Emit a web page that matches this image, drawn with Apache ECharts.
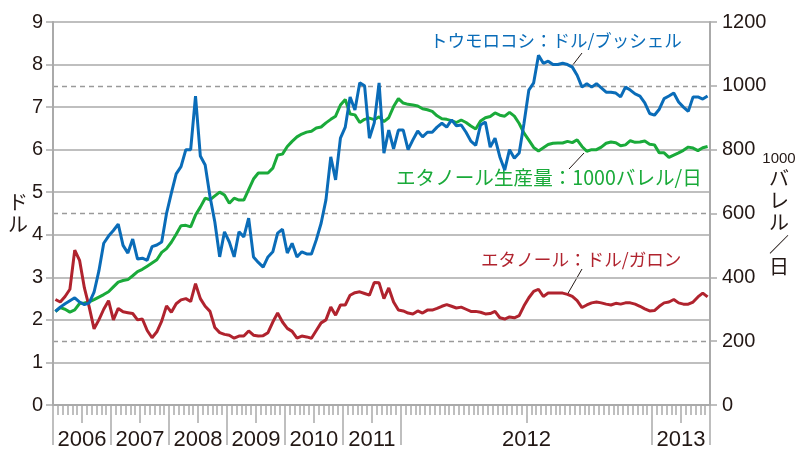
<!DOCTYPE html>
<html>
<head>
<meta charset="utf-8">
<script src="https://cdn.jsdelivr.net/npm/echarts@6.0.0/dist/echarts.min.js"></script>
<style>
html, body { margin: 0; padding: 0; background: #fff; }
#chart { width: 800px; height: 460px; }
</style>
</head>
<body>
<div id="chart"></div>
<script>
// 時間軸: 2011年までは月次, 2012年は週次
const yearBlocks = [
  ['2006', 12], ['2007', 12], ['2008', 12], ['2009', 12], ['2010', 12],
  ['2011', 12], ['2012', 52], ['2013', 12]
]

// トウモロコシ: ドル/ブッシェル
const cornPrice = [
  2.2, 2.3, 2.38, 2.45, 2.52, 2.42, 2.36, 2.4, 2.65, 3.15, 3.8, 3.97,
  4.1, 4.25, 3.75, 3.57, 3.9, 3.43, 3.45, 3.4, 3.72, 3.76, 3.83, 4.5,
  4.98, 5.43, 5.6, 6.0, 6.0, 7.26, 5.85, 5.64, 4.9, 4.3, 3.48, 4.07,
  3.83, 3.48, 4.07, 3.95, 4.39, 3.48, 3.35, 3.24, 3.48, 3.6, 4.04, 4.13,
  3.57, 3.8, 3.48, 3.6, 3.55, 3.55, 3.88, 4.27, 4.82, 5.83, 5.29, 6.27,
  6.53, 7.24, 6.93, 7.57, 7.5, 6.27, 6.63, 7.57, 5.92, 6.46, 6.02, 6.46,
  6.46, 6.0, 6.23, 6.44, 6.3, 6.41, 6.41, 6.53, 6.62, 6.53, 6.7, 6.56,
  6.58, 6.41, 6.2, 6.1, 6.58, 6.65, 6.06, 6.27, 5.83, 5.52, 6.0, 5.8,
  5.92, 6.62, 7.4, 7.57, 8.22, 8.03, 8.08, 8.0, 8.0, 8.03, 8.0, 7.94,
  7.75, 7.47, 7.55, 7.47, 7.55, 7.45, 7.35, 7.35, 7.33, 7.24, 7.47, 7.4,
  7.31, 7.26, 7.1, 6.85, 6.81, 6.95, 7.2, 7.26, 7.33, 7.12, 7.0, 6.9,
  7.24, 7.24, 7.19, 7.26
]

// エタノール生産量: 1000バレル/日
const ethanolOutput = [
  293, 305, 300, 291, 298, 318, 320, 323, 330, 338, 346, 355,
  370, 385, 390, 393, 405, 418, 425, 435, 445, 455, 478, 490,
  510, 535, 562, 563, 558, 595, 620, 648, 643, 655, 667, 658,
  632, 648, 642, 642, 675, 708, 727, 727, 727, 742, 783, 786,
  810, 826, 840, 849, 855, 858, 868, 871, 884, 895, 905, 940,
  957, 912, 909, 885, 895, 899, 894, 903, 888, 900, 935, 960,
  946, 942, 940, 937, 928, 925, 920, 906, 897, 895, 891, 885,
  893, 885, 874, 865, 890, 900, 904, 915, 908, 905, 917, 905,
  882, 852, 830, 807, 796, 806, 816, 820, 821, 821, 826, 822,
  831, 810, 795, 800, 800, 808, 820, 824, 822, 812, 815, 828,
  823, 824, 827, 817, 815, 790, 790, 776, 783, 790, 798, 808,
  805, 797, 806, 810
]

// エタノール: ドル/ガロン
const ethanolPrice = [
  2.48, 2.42, 2.55, 2.72, 3.64, 3.4, 2.75, 2.3, 1.79, 2.0, 2.25, 2.45,
  2.0, 2.27, 2.19, 2.17, 2.15, 2.0, 2.02, 1.75, 1.58, 1.72, 1.97, 2.33,
  2.18, 2.38, 2.47, 2.5, 2.43, 2.85, 2.5, 2.32, 2.2, 1.82, 1.7, 1.66,
  1.64, 1.57, 1.62, 1.62, 1.74, 1.64, 1.62, 1.63, 1.7, 1.95, 2.16, 1.95,
  1.8, 1.73, 1.57, 1.62, 1.6, 1.57, 1.75, 1.93, 2.0, 2.3, 2.11, 2.35,
  2.35, 2.58, 2.64, 2.66, 2.62, 2.58, 2.88, 2.87, 2.5, 2.75, 2.42, 2.23,
  2.21, 2.16, 2.14, 2.21, 2.16, 2.23, 2.23, 2.27, 2.32, 2.36, 2.32, 2.28,
  2.3, 2.25, 2.2, 2.2, 2.18, 2.14, 2.15, 2.2, 2.05, 2.02, 2.07, 2.05,
  2.1, 2.33, 2.52, 2.67, 2.72, 2.55, 2.63, 2.63, 2.63, 2.63, 2.6, 2.55,
  2.45, 2.29, 2.35, 2.4, 2.42, 2.4, 2.37, 2.35, 2.39, 2.37, 2.4, 2.4,
  2.37, 2.32, 2.26, 2.21, 2.22, 2.32, 2.4, 2.42, 2.48, 2.4, 2.37, 2.37,
  2.42, 2.54, 2.63, 2.54
]

const BLUE = '#0a6cb8'
const GREEN = '#1aaa3a'
const RED = '#b0232e'
const INK = '#231815'
const GRAY = '#aaaaaa'
const JP = '"Noto Sans CJK JP", sans-serif'
const NUM = '"Liberation Sans", Arial, sans-serif'

// カテゴリと目盛り位置
const categories = []
const yearStart = {}
const halfMark = {}
const yearLabel = {}
yearBlocks.forEach(([year, n]) => {
  const start = categories.length
  yearStart[start] = true
  halfMark[start + n / 2] = true
  yearLabel[start + n / 2 - 1] = year
  for (let k = 1; k <= n; k++) categories.push(year + '-' + k)
})

const gridLeft = 53
const gridRight = 90
const band = (800 - gridLeft - gridRight) / categories.length

const baseX = {
  type: 'category',
  data: categories,
  position: 'bottom',
  boundaryGap: true,
  axisLine: { show: false },
  axisLabel: { show: false },
  splitLine: { show: false }
}

// 縦書きの軸名
const vert = (s) => s.split('').map((c) => '{t|' + c + '}').join('\n')
const nameRich = {
  t: { fontSize: 20, fontFamily: JP, lineHeight: 22, align: 'center', color: INK, width: 24 },
  n: { fontSize: 15, fontFamily: '"Liberation Sans Narrow", sans-serif', lineHeight: 18, align: 'center', color: INK, width: 24 }
}

const myChart = echarts.init(document.getElementById('chart'))
myChart.setOption({
  animation: false,
  grid: {
    left: gridLeft, right: gridRight, top: 22, bottom: 55,
    containLabel: false, outerBoundsMode: 'none'
  },
  xAxis: [
    Object.assign({}, baseX, {
      axisLine: { show: true, lineStyle: { color: GRAY, width: 2 } },
      axisTick: { show: true, interval: 0, length: 10, lineStyle: { color: GRAY, width: 1.5 } }
    }),
    Object.assign({}, baseX, {
      axisTick: { show: true, interval: (i) => !!halfMark[i], length: 18, lineStyle: { color: GRAY, width: 1.5 } }
    }),
    Object.assign({}, baseX, {
      axisTick: { show: true, interval: (i) => !!yearStart[i], length: 40, lineStyle: { color: GRAY, width: 1.5 } },
      axisLabel: {
        show: true,
        interval: (i) => !!yearLabel[i],
        formatter: (v, i) => yearLabel[i] || '',
        margin: 24,
        padding: [0, 0, 0, band],
        color: INK,
        fontSize: 22,
        fontFamily: '"Liberation Sans Narrow", "Liberation Sans", sans-serif'
      }
    })
  ],
  yAxis: [
    {
      type: 'value',
      position: 'left',
      min: 0,
      max: 9,
      interval: 1,
      name: vert('ドル'),
      nameLocation: 'middle',
      nameGap: 35,
      nameRotate: 0,
      nameMoveOverlap: false,
      nameTextStyle: { color: INK, align: 'center', verticalAlign: 'middle', rich: nameRich },
      axisLine: { show: true, lineStyle: { color: GRAY, width: 2 } },
      axisTick: { show: true, length: 7, lineStyle: { color: GRAY, width: 1.5 } },
      axisLabel: { color: INK, fontSize: 20, fontFamily: NUM, margin: 10 },
      splitLine: { lineStyle: { color: GRAY, width: 1.5 } }
    },
    {
      type: 'value',
      position: 'right',
      min: 0,
      max: 1200,
      interval: 200,
      name: '{n|1000}\n' + vert('バレル／日'),
      nameLocation: 'middle',
      nameGap: 69,
      nameRotate: 0,
      nameMoveOverlap: false,
      nameTextStyle: { color: INK, align: 'center', verticalAlign: 'middle', rich: nameRich },
      axisLine: { show: true, lineStyle: { color: GRAY, width: 2 } },
      axisTick: { show: true, length: 7, lineStyle: { color: GRAY, width: 1.5 } },
      axisLabel: { color: INK, fontSize: 20, fontFamily: NUM, margin: 12, formatter: (v) => String(v) },
      splitLine: {
        lineStyle: {
          color: ['rgba(0,0,0,0)', '#9a9a9a'],
          width: 1.3,
          type: [5, 4]
        }
      }
    }
  ],
  series: [
    {
      name: 'エタノール生産量',
      type: 'line',
      yAxisIndex: 1,
      data: ethanolOutput,
      symbol: 'none',
      lineStyle: { color: GREEN, width: 3 }
    },
    {
      name: 'エタノール',
      type: 'line',
      yAxisIndex: 0,
      data: ethanolPrice,
      symbol: 'none',
      lineStyle: { color: RED, width: 3 }
    },
    {
      name: 'トウモロコシ',
      type: 'line',
      yAxisIndex: 0,
      data: cornPrice,
      symbol: 'none',
      lineStyle: { color: BLUE, width: 3 }
    }
  ],
  graphic: [
    { type: 'text', left: 430, top: 32, style: { text: 'トウモロコシ：ドル/ブッシェル', fill: BLUE, font: '17.5px ' + JP } },
    { type: 'line', shape: { x1: 572, y1: 66, x2: 582, y2: 53 }, style: { stroke: INK, lineWidth: 1 } },
    { type: 'text', left: 396, top: 168, style: { text: 'エタノール生産量：1000バレル/日', fill: GREEN, font: '19.6px ' + JP } },
    { type: 'line', shape: { x1: 584, y1: 153, x2: 569, y2: 169 }, style: { stroke: INK, lineWidth: 1 } },
    { type: 'text', left: 481, top: 251, style: { text: 'エタノール：ドル/ガロン', fill: RED, font: '17.6px ' + JP } },
    { type: 'line', shape: { x1: 582, y1: 269, x2: 567, y2: 295 }, style: { stroke: INK, lineWidth: 1 } }
  ]
})
</script>
</body>
</html>
